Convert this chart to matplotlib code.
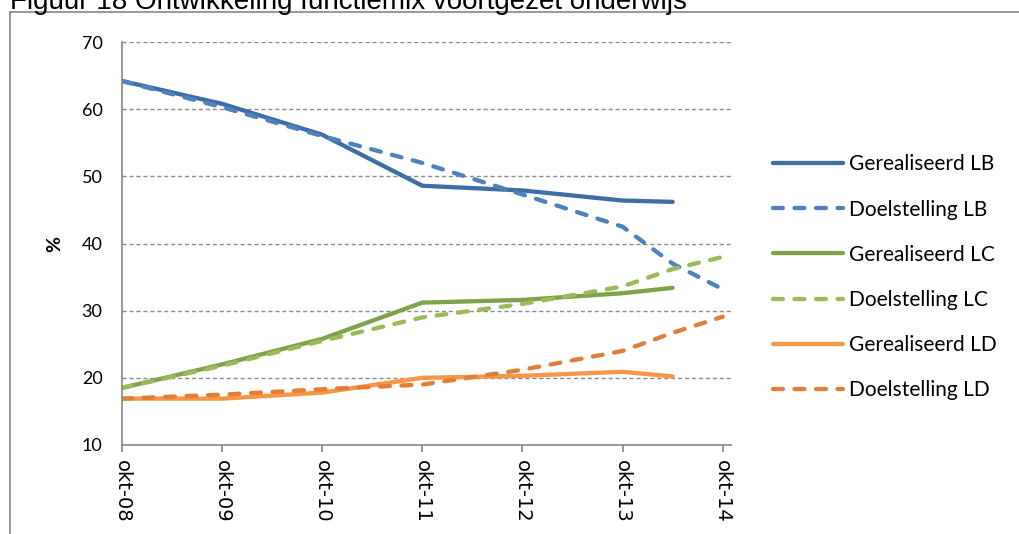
"""
plot.py — Figuur 18: ontwikkeling functiemix voortgezet onderwijs.

Writes: out.png
"""
import matplotlib
matplotlib.use("Agg")
import matplotlib.pyplot as plt
from matplotlib.lines import Line2D

# months since okt-08
TICK_POS = [0, 12, 24, 36, 48, 60, 72]
TICK_LABELS = ["okt-08", "okt-09", "okt-10", "okt-11", "okt-12", "okt-13", "okt-14"]

X_REAL = [0, 12, 24, 36, 48, 60, 66]
X_GOAL = [0, 12, 24, 36, 48, 60, 66, 72]

real_lb = [64.2, 60.8, 56.2, 48.6, 47.9, 46.4, 46.2]
goal_lb = [64.2, 60.3, 56.0, 52.0, 47.3, 42.5, 37.0, 33.2]
real_lc = [18.5, 22.0, 25.8, 31.2, 31.6, 32.6, 33.4]
goal_lc = [18.5, 21.8, 25.5, 29.0, 31.0, 33.6, 36.2, 38.0]
real_ld = [16.9, 16.9, 17.8, 20.0, 20.3, 20.9, 20.2]
goal_ld = [16.9, 17.5, 18.3, 19.0, 21.2, 24.0, 26.7, 29.1]

SERIES = [
    ("Gerealiseerd LB", X_REAL, real_lb, "#3F6EA6", "-"),
    ("Doelstelling LB", X_GOAL, goal_lb, "#4F81BD", "--"),
    ("Gerealiseerd LC", X_REAL, real_lc, "#7EA34B", "-"),
    ("Doelstelling LC", X_GOAL, goal_lc, "#9BBB59", "--"),
    ("Gerealiseerd LD", X_REAL, real_ld, "#F79646", "-"),
    ("Doelstelling LD", X_GOAL, goal_ld, "#E07F38", "--"),
]

plt.rcParams["font.family"] = ["Lato", "DejaVu Sans"]

fig = plt.figure(figsize=(10.19, 5.34), dpi=100)
ax = fig.add_axes([0.1197, 0.1667, 0.5977, 0.7546])

for label, xs, ys, color, ls in SERIES:
    line, = ax.plot(xs, ys, color=color, lw=3.1, label=label,
                    solid_capstyle="round", dash_capstyle="round")
    if ls == "--":
        line.set_dashes((2.3, 2.7))

ax.set_xlim(0, 73)
ax.set_ylim(10, 70)
ax.set_yticks(range(10, 71, 10))
ax.set_xticks(TICK_POS)
ax.set_xticklabels(TICK_LABELS, rotation=-90, fontsize=14, family="DejaVu Sans")
ax.tick_params(axis="y", length=0, pad=14, labelsize=13)
ax.tick_params(axis="x", length=5, color="#868686", width=1.2, pad=6)

for y in range(20, 71, 10):
    ax.axhline(y, color="#8C8C8C", lw=1.0, ls=(0, (3, 2)), zorder=0)

for side in ("top", "right"):
    ax.spines[side].set_visible(False)
for side in ("left", "bottom"):
    ax.spines[side].set_color("#868686")
    ax.spines[side].set_linewidth(1.2)

ax.set_ylabel("%", fontsize=14, fontweight="bold", labelpad=13)

fig.legend(loc="upper left", bbox_to_anchor=(0.7586, 0.711), frameon=False,
           fontsize=15, handlelength=3.35, handletextpad=0.3,
           labelspacing=1.21, borderpad=0, borderaxespad=0)

# outer chart frame (cut off at right and bottom) and cut-off caption
fig.add_artist(Line2D([0.0098, 0.0098], [0, 0.9766], color="#868686", lw=1.2,
                      transform=fig.transFigure))
fig.add_artist(Line2D([0.0098, 1.0], [0.9766, 0.9766], color="#868686", lw=1.2,
                      transform=fig.transFigure))
fig.text(0.0098, 0.983, "Figuur 18 Ontwikkeling functiemix voortgezet onderwijs",
         fontsize=20, va="baseline", ha="left", family="Liberation Sans")

fig.savefig("out.png", dpi=100)
plt.close(fig)
